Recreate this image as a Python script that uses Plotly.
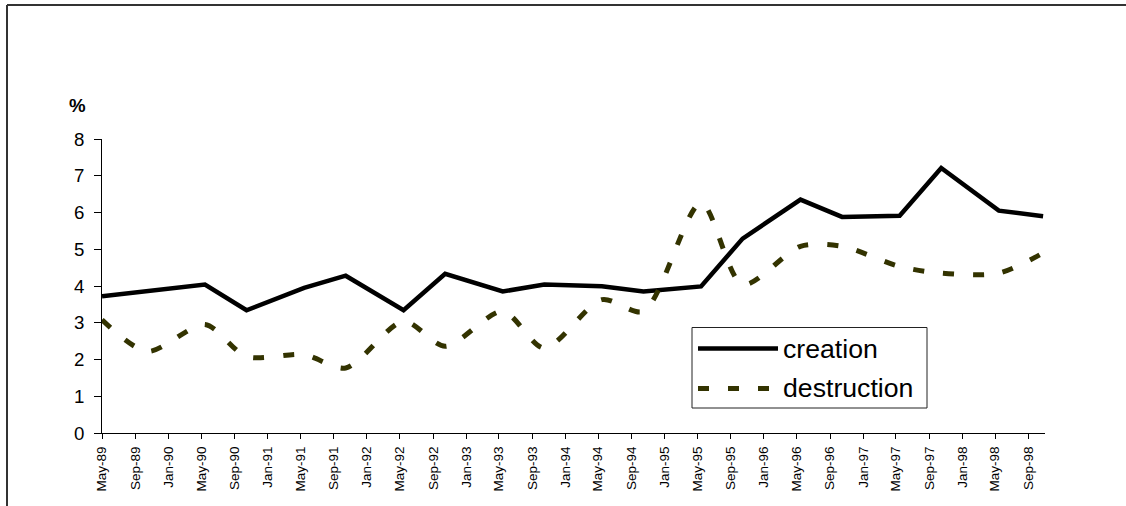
import plotly.graph_objects as go
import pandas as pd

# ---- data ----
dates = ["1989-05-01", "1989-10-15", "1990-05-15", "1990-10-15", "1991-05-15",
         "1991-10-15", "1992-05-15", "1992-10-15", "1993-05-15", "1993-10-15",
         "1994-05-15", "1994-10-15", "1995-05-15", "1995-10-15", "1996-05-15",
         "1996-10-15", "1997-05-15", "1997-10-15", "1998-05-15", "1998-10-25"]
creation = [3.72, 3.85, 4.04, 3.34, 3.95, 4.28, 3.34, 4.33, 3.85, 4.04,
            3.99, 3.85, 3.99, 5.29, 6.35, 5.88, 5.91, 7.21, 6.05, 5.90]
destruction = [3.08, 2.22, 2.95, 2.08, 2.13, 1.77, 3.04, 2.36, 3.31, 2.31,
               3.63, 3.31, 6.26, 4.04, 5.08, 5.08, 4.53, 4.35, 4.35, 4.90]
tick_labels = ["May-89", "Sep-89", "Jan-90", "May-90", "Sep-90", "Jan-91", "May-91",
               "Sep-91", "Jan-92", "May-92", "Sep-92", "Jan-93", "May-93", "Sep-93",
               "Jan-94", "May-94", "Sep-94", "Jan-95", "May-95", "Sep-95", "Jan-96",
               "May-96", "Sep-96", "Jan-97", "May-97", "Sep-97", "Jan-98", "May-98",
               "Sep-98"]
y_ticks = [0, 1, 2, 3, 4, 5, 6, 7, 8]
grid_vals = [1, 2, 3, 4, 5, 6, 7]
series_names = ["creation", "destruction"]

tick_dates = [pd.to_datetime(t, format="%b-%y").strftime("%Y-%m-%d") for t in tick_labels]

# ---- layout geometry ----
W, H = 1126, 506
L, R, T, B = 102, 81, 139, 73
PW, PH = W - L - R, H - T - B


def px(x):
    return (x - L) / PW


def py(y):
    return (H - B - y) / PH


OLIVE = "#333300"
FONT = "Arial, Liberation Sans, sans-serif"

fig = go.Figure()
fig.add_trace(go.Scatter(x=dates, y=creation, mode="lines", name=series_names[0],
                         line=dict(color="black", width=4.5), showlegend=False))
fig.add_trace(go.Scatter(x=dates, y=destruction, mode="lines", name=series_names[1],
                         line=dict(color=OLIVE, width=5, dash="11px,19px",
                                   shape="spline", smoothing=0.8),
                         showlegend=False))

fig.update_layout(
    width=W, height=H,
    margin=dict(l=L, r=R, t=T, b=B, pad=0),
    paper_bgcolor="white", plot_bgcolor="rgba(0,0,0,0)",
    font=dict(family=FONT, color="black"),
    xaxis=dict(
        type="date", range=["1989-05-01", "1998-11-01"],
        tickmode="array", tickvals=tick_dates, ticktext=tick_labels,
        tickangle=-90, tickfont=dict(size=13.5, family=FONT),
        ticks="outside", ticklen=5, tickcolor="black", tickwidth=1,
        showline=True, linecolor="black", linewidth=1,
        showgrid=False, zeroline=False, ticklabelstandoff=2,
    ),
    yaxis=dict(
        range=[0, 8], tickmode="array", tickvals=y_ticks,
        tickfont=dict(size=18.67, family=FONT),
        ticks="outside", ticklen=7, tickcolor="black", tickwidth=1,
        showline=True, linecolor="black", linewidth=1,
        showgrid=False, zeroline=False, ticklabelstandoff=6,
    ),
    yaxis2=dict(
        range=[0, 8], overlaying="y", tickmode="array", tickvals=grid_vals,
        showticklabels=False, ticks="", showgrid=True, gridcolor="#3a3a3a",
        gridwidth=1, zeroline=False, showline=False,
    ),
    showlegend=False,
)

shapes = [
    # outer frame (left and top borders)
    dict(type="line", xref="paper", yref="paper", x0=px(7), x1=px(7), y0=py(5), y1=py(510),
         line=dict(color="#333333", width=2)),
    dict(type="line", xref="paper", yref="paper", x0=px(7), x1=px(1130), y0=py(5), y1=py(5),
         line=dict(color="#333333", width=2)),
    # legend box
    dict(type="rect", xref="paper", yref="paper", x0=px(692), x1=px(927), y0=py(408), y1=py(327.5),
         line=dict(color="#222222", width=1), fillcolor="white", layer="above"),
    dict(type="line", xref="paper", yref="paper", x0=px(698), x1=px(778), y0=py(348.5), y1=py(348.5),
         line=dict(color="black", width=4.5), layer="above"),
    dict(type="line", xref="paper", yref="paper", x0=px(698), x1=px(770), y0=py(388.5), y1=py(388.5),
         line=dict(color=OLIVE, width=5, dash="11px,19px"), layer="above"),
]
fig.update_layout(shapes=shapes)

fig.add_annotation(text="%", xref="paper", yref="paper", x=px(77.5), y=py(105.5),
                   xanchor="center", yanchor="middle", showarrow=False,
                   font=dict(size=18.67, family=FONT, color="black", weight="bold"))
fig.add_annotation(text=series_names[0], xref="paper", yref="paper", x=px(781), y=py(349),
                   xanchor="left", yanchor="middle", showarrow=False,
                   font=dict(size=26.67, family=FONT, color="black"))
fig.add_annotation(text=series_names[1], xref="paper", yref="paper", x=px(781), y=py(388),
                   xanchor="left", yanchor="middle", showarrow=False,
                   font=dict(size=26.67, family=FONT, color="black"))

fig.write_html("out.html")
